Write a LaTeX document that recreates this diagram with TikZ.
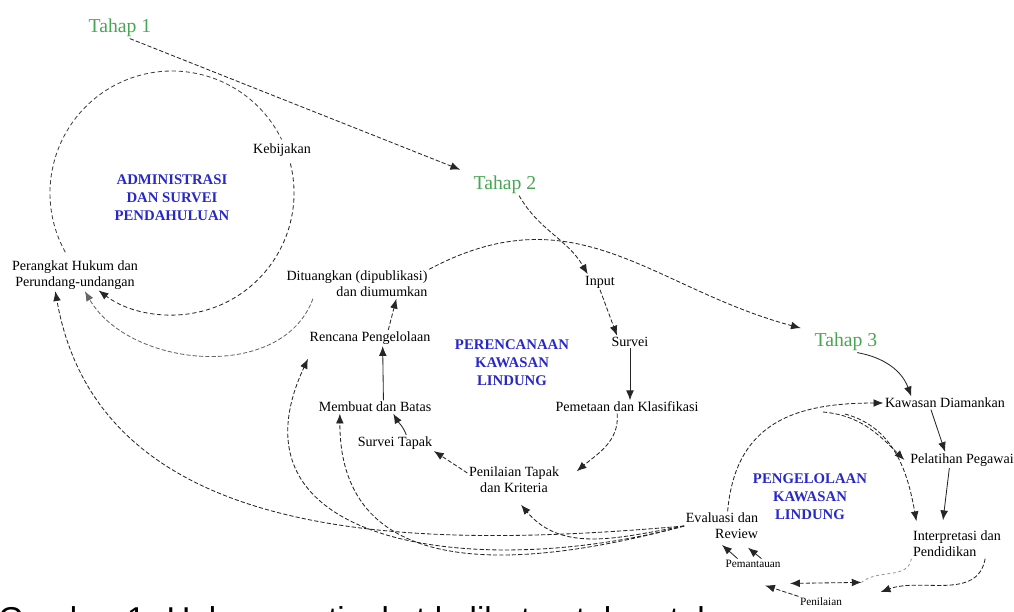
\documentclass[tikz,border=0pt]{standalone}
\usepackage{fontspec}
\setmainfont{Liberation Serif}
\newfontfamily\capfont{Liberation Sans}
\usetikzlibrary{arrows.meta,positioning,calc}
\definecolor{tahapgreen}{RGB}{72,165,84}
\definecolor{titleblue}{RGB}{40,40,200}
\definecolor{ringgray}{RGB}{150,150,150}
\tikzset
{
    lbl/.style        = {font=\fontsize{10}{11.5}\selectfont, align=center, inner sep=1pt},
    lblsmall/.style   = {font=\fontsize{8}{9.5}\selectfont, align=center, inner sep=1pt},
    cycletitle/.style = {font=\fontsize{10.5}{12.8}\selectfont\bfseries, text=titleblue, align=center},
    tahap/.style      = {font=\fontsize{14}{16}\selectfont, text=tahapgreen, inner sep=1pt},
    flow/.style       = {->, >={Latex[length=7pt,width=5.5pt]}, line width=0.6pt, draw=black!85},
    link/.style       = {flow, dash pattern=on 3pt off 1.5pt},
    ring/.style       = {line width=0.6pt, dash pattern=on 3pt off 2pt, draw=black!75},
    pale/.style       = {line width=0.6pt, dash pattern=on 2pt off 2pt, draw=ringgray}
}
\begin{document}
\begin{tikzpicture}[x=0.025cm, y=0.025cm]
   \useasboundingbox (0,-612) rectangle (1014,0);

	 \newcommand\RADA{122}
	 \newcommand\RADC{90}

	 \coordinate (adminring)  at (172,-193);
	 \coordinate (managering) at (813,-495);

   \node (tahapA)      [tahap]      at (120,-28)   {Tahap 1};
   \node (tahapB)      [tahap]      at (505,-185)  {Tahap 2};
   \node (tahapC)      [tahap]      at (846,-342)  {Tahap 3};

   \node (admin)       [cycletitle] at (172,-198)  {ADMINISTRASI\\DAN SURVEI\\PENDAHULUAN};
   \node (plan)        [cycletitle] at (512,-363)  {PERENCANAAN\\KAWASAN\\LINDUNG};
   \node (manage)      [cycletitle] at (810,-497)  {PENGELOLAAN\\KAWASAN\\LINDUNG};

   \node (kebijakan)   [lbl]              at (282,-150)  {Kebijakan};
   \node (perangkat)   [lbl]              at (75,-275)   {Perangkat Hukum dan\\Perundang-undangan};
   \node (dituangkan)  [lbl, align=right] at (357,-284)  {Dituangkan (dipublikasi)\\dan diumumkan};
   \node (rencana)     [lbl]              at (370,-338)  {Rencana Pengelolaan};
   \node (membuat)     [lbl]              at (375,-407)  {Membuat dan Batas};
   \node (surveitapak) [lbl]              at (395,-443)  {Survei Tapak};
   \node (penilaian)   [lbl]              at (514,-480)  {Penilaian Tapak\\dan Kriteria};
   \node (input)       [lbl]              at (600,-282)  {Input};
   \node (survei)      [lbl]              at (630,-342)  {Survei};
   \node (pemetaan)    [lbl]              at (627,-407)  {Pemetaan dan Klasifikasi};

   \node (kawasan)     [lbl]              at (945,-403)  {Kawasan Diamankan};
   \node (pelatihan)   [lbl]              at (962,-460)  {Pelatihan Pegawai};
   \node (interpretasi)[lbl, align=left]  at (957,-544)  {Interpretasi dan\\Pendidikan};
   \node (evaluasi)    [lbl, align=right] at (722,-526)  {Evaluasi dan\\Review};
   \node (pemantauan)  [lblsmall]         at (753,-564)  {Pemantauan};
   \node (penilaianB)  [lblsmall]         at (821,-602)  {Penilaian};

   \node (caption) [anchor=base west, inner sep=0pt, font=\capfont\fontsize{23.5}{27}\selectfont] at (-2,-630)
        {Gambar 1. Hubungan tingkat kelibatan tahap-tahap};

   \coordinate (brA)  at (823,-412);
   \coordinate (brB)  at (845,-414);
   \coordinate (meet) at ([shift={(18,14)}]penilaianB.north east);

   %% rings
   \draw[ring]       (adminring) ++(209:\RADA) arc[start angle=209, end angle=26, radius=\RADA];
   \draw[ring, flow] (adminring) ++(14:\RADA)  arc[start angle=14, end angle=-127, radius=\RADA];

	 \path
	    ([xshift=7pt]tahapA.south)        edge[link, shorten >=9pt]            (tahapB.north west)
	    ([xshift=10pt]tahapB.south)       edge[link, out=-60, in=120]          ([xshift=3pt]input.north west)
	    (input.south)                     edge[link]                           ([xshift=5pt]survei.north west)
	    (survei.south)                    edge[flow]                           (survei.south |- pemetaan.north)
	    ([xshift=-7pt]pemetaan.south)     edge[link, out=-85, in=40]           ([shift={(16,-6)}]penilaian.north east)
	    ([yshift=5pt]penilaian.west)      edge[link]                           (surveitapak.south east)
	    ([xshift=8pt]surveitapak.north)   edge[flow, out=110, in=-60]          ([xshift=13pt]membuat.south)
	    ([xshift=6pt]membuat.north)       edge[flow]                           ([xshift=9pt]rencana.south)
	    ([xshift=13pt]rencana.north)      edge[link]                           ([xshift=28pt]dituangkan.south)
	    (dituangkan.north east)           edge[link, out=28, in=165, looseness=1.1, shorten >=9pt] (tahapC.north west)
	    ([xshift=20pt]dituangkan.south west) edge[link, draw=black!60, out=-110, in=-60] ([xshift=7pt]perangkat.south)
	    (evaluasi.west)                   edge[link, out=185, in=-80]          ([xshift=-14pt]perangkat.south)
	    (evaluasi.west)                   edge[link, out=195, in=-115, looseness=1.3] ([yshift=-9pt]rencana.south west)
	    (evaluasi.west)                   edge[link, out=195, in=-90, looseness=1.2]  ([xshift=-25pt]membuat.south)
	    (evaluasi.west)                   edge[link, out=190, in=-50]          ([shift={(7,-10)}]penilaian.south)
	    ([xshift=4pt]evaluasi.north)      edge[link, out=85, in=180, looseness=1.2] (kawasan.west)
	    (brA)                             edge[link, out=-5, in=135]           ([xshift=-3pt]pelatihan.west)
	    (brB)                             edge[link, out=-15, in=100]          ([shift={(5,8)}]interpretasi.north west)
	    ([xshift=8pt]tahapC.south)        edge[flow, out=-10, in=110]          ([xshift=-24pt]kawasan.north)
	    ([xshift=-10pt]kawasan.south)     edge[flow]                           ([xshift=-12pt]pelatihan.north)
	    ([xshift=-9pt]pelatihan.south)    edge[flow]                           ([shift={(-14,9)}]interpretasi.north)
	    ([xshift=20pt]interpretasi.south) edge[link, out=-100, in=20]          ([shift={(37,10)}]penilaianB.east)
	    ([xshift=-11pt]pemantauan.north)  edge[flow]                           ([yshift=-3pt]evaluasi.south)
	    ([xshift=6pt]pemantauan.north)    edge[flow]                           ([shift={(26,-7)}]evaluasi.south)
	    (penilaianB.north west)           edge[link]                           ([shift={(12,-16)}]pemantauan.south)
	    ([shift={(37,-14)}]pemantauan.south) edge[link, <->]                   (meet)
	    (interpretasi.south west)         edge[pale, out=-100, in=40]          (meet);
\end{tikzpicture}
\end{document}
